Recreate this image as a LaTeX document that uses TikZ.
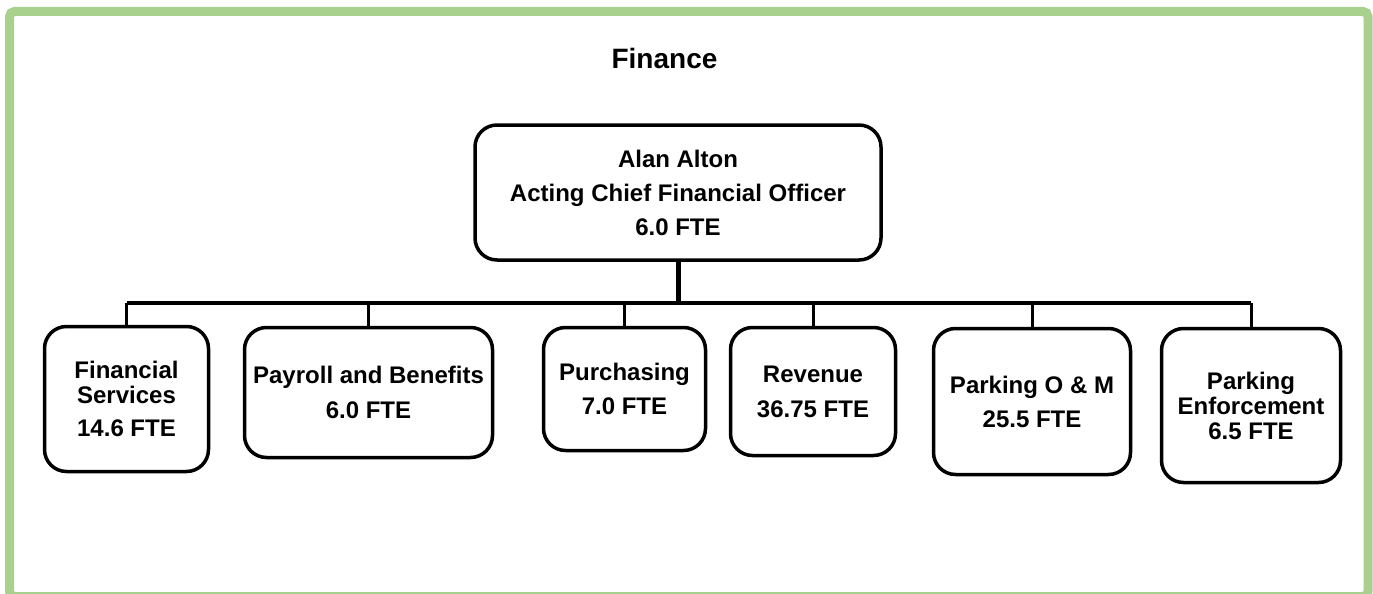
\documentclass[tikz,border=0pt]{standalone}
\usepackage{fontspec}
\setmainfont{Liberation Sans}
\definecolor{framegreen}{RGB}{168,209,141}

\begin{document}
\begin{tikzpicture}[x=1pt, y=-1pt,
  unit/.style={draw, line width=3.5, rounded corners=22, align=center, inner sep=0pt,
    font=\bfseries\fontsize{24}{25}\selectfont},
  link/.style={line width=3}]
\useasboundingbox (0,0) rectangle (1373,594);
\draw[framegreen, line width=9, rounded corners=5] (9.5,11.5) rectangle (1368,596.5);
\node[anchor=base, font=\bfseries\fontsize{28}{30}\selectfont] (title) at (664.5,69) {Finance};
\node[unit, minimum width=406, minimum height=135] (chief) at (678,192.5) {Alan Alton\\[9pt]Acting Chief Financial Officer\\[9pt]6.0 FTE};
\node[unit, minimum width=164, minimum height=145] (fin) at (126.5,399) {Financial\\Services\\[8pt]14.6 FTE};
\node[unit, minimum width=248, minimum height=130] (pay) at (368.5,392.5) {Payroll and Benefits\\[10pt]6.0 FTE};
\node[unit, minimum width=162, minimum height=123] (pur) at (624.5,389) {Purchasing\\[9pt]7.0 FTE};
\node[unit, minimum width=165, minimum height=128] (rev) at (813,391.5) {Revenue\\[10pt]36.75 FTE};
\node[unit, minimum width=197, minimum height=146] (park) at (1032,401.5) {Parking O \& M\\[9pt]25.5 FTE};
\node[unit, minimum width=179, minimum height=154] (enf) at (1251,405.5) {Parking\\Enforcement\\6.5 FTE};
\coordinate (bus) at (678,303);
\draw[line width=5] (chief.south) -- (bus);
\draw[line width=3.5] (fin.north |- bus) -- (enf.north |- bus);
\foreach \n in {fin,pay,pur,rev,park,enf}
  \draw[link] (\n.north) -- (\n.north |- bus);
\end{tikzpicture}
\end{document}
